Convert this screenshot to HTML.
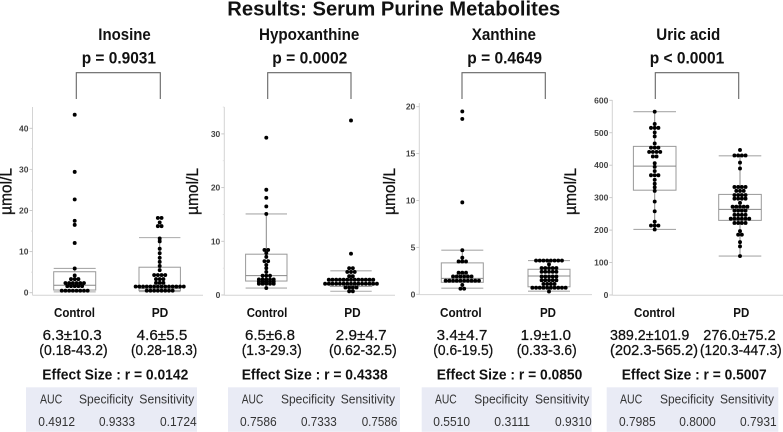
<!DOCTYPE html>
<html lang="en">
<head>
<meta charset="utf-8">
<title>Results: Serum Purine Metabolites</title>
<style>
html,body{margin:0;padding:0;background:#fff;}
svg{display:block;font-family:"Liberation Sans","DejaVu Sans",sans-serif;}
text{fill:#111;}
.h{font-weight:bold;font-size:16.5px;}
.cat{font-weight:bold;font-size:13px;}
.st{font-size:14.5px;stroke:#111;stroke-width:.25px;}
.eff{font-weight:bold;font-size:15px;}
.tb{font-size:12.8px;fill:#333;}
.yt{font-size:17px;font-weight:normal;stroke:#111;stroke-width:.3px;}
.tick{font-size:8.5px;font-weight:bold;fill:#444;}
</style>
</head>
<body>
<svg id="chart" xmlns="http://www.w3.org/2000/svg" width="783" height="432" viewBox="0 0 783 432">
<text x="227.3" y="15.5" font-size="20.5" font-weight="bold" textLength="333" lengthAdjust="spacingAndGlyphs">Results: Serum Purine Metabolites</text>

<g fill="#e9ebf5">
<rect x="26" y="387.3" width="171" height="44.5"/>
<rect x="228" y="387.3" width="172" height="44.5"/>
<rect x="421.7" y="387.3" width="170" height="44.5"/>
<rect x="606.7" y="387.3" width="171.6" height="44.5"/>
</g>

<g id="plots"></g>

<!-- Inosine text -->
<text class="h" x="98.3" y="40" textLength="52.4" lengthAdjust="spacingAndGlyphs">Inosine</text>
<text class="h" x="81.7" y="63.5" textLength="74.3" lengthAdjust="spacingAndGlyphs">p = 0.9031</text>
<text class="yt" transform="translate(11.5,215) rotate(-90)" textLength="47" lengthAdjust="spacingAndGlyphs">µmol/L</text>
<text class="cat" x="54" y="317" textLength="41" lengthAdjust="spacingAndGlyphs">Control</text>
<text class="cat" x="151.7" y="317" textLength="16.6" lengthAdjust="spacingAndGlyphs">PD</text>
<text class="st" x="42.7" y="340" textLength="59" lengthAdjust="spacingAndGlyphs">6.3±10.3</text>
<text class="st" x="136.7" y="340" textLength="50.6" lengthAdjust="spacingAndGlyphs">4.6±5.5</text>
<text class="st" x="39.3" y="355" textLength="68.4" lengthAdjust="spacingAndGlyphs">(0.18-43.2)</text>
<text class="st" x="131" y="355" textLength="66.3" lengthAdjust="spacingAndGlyphs">(0.28-18.3)</text>
<text class="eff" x="42.3" y="379.3" textLength="146" lengthAdjust="spacingAndGlyphs">Effect Size : r = 0.0142</text>
<text class="tb" x="40" y="403.3" textLength="22.3" lengthAdjust="spacingAndGlyphs">AUC</text>
<text class="tb" x="79" y="403.3" textLength="54.3" lengthAdjust="spacingAndGlyphs">Specificity</text>
<text class="tb" x="139.3" y="403.3" textLength="55" lengthAdjust="spacingAndGlyphs">Sensitivity</text>
<text class="tb" x="38.3" y="426" textLength="36.7" lengthAdjust="spacingAndGlyphs">0.4912</text>
<text class="tb" x="99" y="426" textLength="36" lengthAdjust="spacingAndGlyphs">0.9333</text>
<text class="tb" x="160" y="426" textLength="36.7" lengthAdjust="spacingAndGlyphs">0.1724</text>

<!-- Hypoxanthine text -->
<text class="h" x="259" y="40" textLength="100.3" lengthAdjust="spacingAndGlyphs">Hypoxanthine</text>
<text class="h" x="272.3" y="63.5" textLength="75" lengthAdjust="spacingAndGlyphs">p = 0.0002</text>
<text class="yt" transform="translate(198,215) rotate(-90)" textLength="47" lengthAdjust="spacingAndGlyphs">µmol/L</text>
<text class="cat" x="246.7" y="317" textLength="40.6" lengthAdjust="spacingAndGlyphs">Control</text>
<text class="cat" x="344.3" y="317" textLength="16.4" lengthAdjust="spacingAndGlyphs">PD</text>
<text class="st" x="245" y="340" textLength="50" lengthAdjust="spacingAndGlyphs">6.5±6.8</text>
<text class="st" x="335.7" y="340" textLength="51" lengthAdjust="spacingAndGlyphs">2.9±4.7</text>
<text class="st" x="241.7" y="355" textLength="60" lengthAdjust="spacingAndGlyphs">(1.3-29.3)</text>
<text class="st" x="329" y="355" textLength="67.7" lengthAdjust="spacingAndGlyphs">(0.62-32.5)</text>
<text class="eff" x="241.7" y="379.3" textLength="146" lengthAdjust="spacingAndGlyphs">Effect Size : r = 0.4338</text>
<text class="tb" x="241.7" y="403.3" textLength="21.6" lengthAdjust="spacingAndGlyphs">AUC</text>
<text class="tb" x="281" y="403.3" textLength="54" lengthAdjust="spacingAndGlyphs">Specificity</text>
<text class="tb" x="340.7" y="403.3" textLength="54.3" lengthAdjust="spacingAndGlyphs">Sensitivity</text>
<text class="tb" x="240" y="426" textLength="36.7" lengthAdjust="spacingAndGlyphs">0.7586</text>
<text class="tb" x="301" y="426" textLength="35.7" lengthAdjust="spacingAndGlyphs">0.7333</text>
<text class="tb" x="361.7" y="426" textLength="35.6" lengthAdjust="spacingAndGlyphs">0.7586</text>

<!-- Xanthine text -->
<text class="h" x="471.7" y="40" textLength="64.3" lengthAdjust="spacingAndGlyphs">Xanthine</text>
<text class="h" x="467.3" y="63.5" textLength="74.7" lengthAdjust="spacingAndGlyphs">p = 0.4649</text>
<text class="yt" transform="translate(395,215) rotate(-90)" textLength="47" lengthAdjust="spacingAndGlyphs">µmol/L</text>
<text class="cat" x="440" y="317" textLength="41.7" lengthAdjust="spacingAndGlyphs">Control</text>
<text class="cat" x="540" y="317" textLength="16" lengthAdjust="spacingAndGlyphs">PD</text>
<text class="st" x="436.7" y="340" textLength="50.6" lengthAdjust="spacingAndGlyphs">3.4±4.7</text>
<text class="st" x="520.7" y="340" textLength="50.3" lengthAdjust="spacingAndGlyphs">1.9±1.0</text>
<text class="st" x="433.3" y="355" textLength="60" lengthAdjust="spacingAndGlyphs">(0.6-19.5)</text>
<text class="st" x="516.7" y="355" textLength="60" lengthAdjust="spacingAndGlyphs">(0.33-3.6)</text>
<text class="eff" x="436.7" y="379.3" textLength="145.6" lengthAdjust="spacingAndGlyphs">Effect Size : r = 0.0850</text>
<text class="tb" x="435" y="403.3" textLength="21.7" lengthAdjust="spacingAndGlyphs">AUC</text>
<text class="tb" x="474.3" y="403.3" textLength="54" lengthAdjust="spacingAndGlyphs">Specificity</text>
<text class="tb" x="535" y="403.3" textLength="54.3" lengthAdjust="spacingAndGlyphs">Sensitivity</text>
<text class="tb" x="433.3" y="426" textLength="36.7" lengthAdjust="spacingAndGlyphs">0.5510</text>
<text class="tb" x="494.3" y="426" textLength="35.7" lengthAdjust="spacingAndGlyphs">0.3111</text>
<text class="tb" x="555" y="426" textLength="36.7" lengthAdjust="spacingAndGlyphs">0.9310</text>

<!-- Uric acid text -->
<text class="h" x="656.3" y="40" textLength="64" lengthAdjust="spacingAndGlyphs">Uric acid</text>
<text class="h" x="649.7" y="63.5" textLength="74.6" lengthAdjust="spacingAndGlyphs">p &lt; 0.0001</text>
<text class="yt" transform="translate(576,215) rotate(-90)" textLength="47" lengthAdjust="spacingAndGlyphs">µmol/L</text>
<text class="cat" x="634" y="317" textLength="41" lengthAdjust="spacingAndGlyphs">Control</text>
<text class="cat" x="733.3" y="317" textLength="16" lengthAdjust="spacingAndGlyphs">PD</text>
<text class="st" x="610" y="340" textLength="79.3" lengthAdjust="spacingAndGlyphs">389.2±101.9</text>
<text class="st" x="703.3" y="340" textLength="72.4" lengthAdjust="spacingAndGlyphs">276.0±75.2</text>
<text class="st" x="610" y="355" textLength="88" lengthAdjust="spacingAndGlyphs">(202.3-565.2)</text>
<text class="st" x="700" y="355" textLength="81.7" lengthAdjust="spacingAndGlyphs">(120.3-447.3)</text>
<text class="eff" x="621.7" y="379.3" textLength="145" lengthAdjust="spacingAndGlyphs">Effect Size : r = 0.5007</text>
<text class="tb" x="620" y="403.3" textLength="22.3" lengthAdjust="spacingAndGlyphs">AUC</text>
<text class="tb" x="660" y="403.3" textLength="54" lengthAdjust="spacingAndGlyphs">Specificity</text>
<text class="tb" x="720" y="403.3" textLength="54" lengthAdjust="spacingAndGlyphs">Sensitivity</text>
<text class="tb" x="619" y="426" textLength="36.7" lengthAdjust="spacingAndGlyphs">0.7985</text>
<text class="tb" x="679.3" y="426" textLength="36.4" lengthAdjust="spacingAndGlyphs">0.8000</text>
<text class="tb" x="740" y="426" textLength="36.7" lengthAdjust="spacingAndGlyphs">0.7931</text>
</svg>

<script>
// ---- data ----
const inosineTicks = [0, 10, 20, 30, 40];
const inosineControlPoints = [43.3, 29.4, 22.7, 17.5, 16.5, 12.1, 5.9, 4.2, 3.3, 3.3, 3.3,
  2.35, 2.35, 2.35, 2.35, 2.35, 2.35, 1.6, 1.6, 1.6, 1.6, 1.6,
  0.5, 0.5, 0.5, 0.5, 0.5, 0.5, 0.5, 0.5];
const inosinePdPoints = [18.2, 18.2, 17.1, 16.2, 16.2, 13.2, 12.5, 10.7, 9.6, 8.5, 7.5, 6.5, 5.5,
  4.3, 4.3, 4.3, 4.3, 3.3, 3.3, 3.3, 2.4, 2.4, 2.4,
  1.5, 1.5, 1.5, 1.5, 1.5, 1.5, 1.5, 1.5, 1.5, 1.5, 1.5, 1.5, 1.5, 1.5,
  0.5, 0.5, 0.5, 0.5, 0.5, 0.5, 0.5, 0.5];
const inosineControlBox = [0.2, 0.65, 1.8, 5.1, 5.9];
const inosinePdBox = [0.28, 0.5, 1.0, 6.2, 13.4];

const hypoxanthineTicks = [0, 10, 20, 30];
const hypoxanthineControlPoints = [29.3, 19.6, 18.1, 16.5, 15.1, 8.4, 8.4, 7.8, 7.1, 6.3, 6.3, 5.6, 5.0, 4.3,
  3.6, 3.6, 3.6, 2.9, 2.9, 2.9, 2.9, 2.9, 2.5, 2.5, 2.5, 2.5, 2.5, 2.1, 2.1, 2.1, 2.1, 2.1, 1.3];
const hypoxanthinePdPoints = [32.5, 7.7, 5.0, 5.0, 4.3, 4.3, 4.3, 3.5, 3.5,
  2.85, 2.85, 2.85, 2.85, 2.85, 2.85, 2.85, 2.85, 2.85, 2.85, 2.85, 2.85, 2.85,
  2.1, 2.1, 2.1, 2.1, 2.1, 2.1, 2.1, 2.1, 2.1, 2.1, 2.1, 2.1, 2.1, 2.1, 2.1,
  1.4, 1.4, 1.4, 1.4, 0.7, 0.7];
const hypoxanthineControlBox = [1.3, 2.6, 3.6, 7.6, 15.1];
const hypoxanthinePdBox = [0.7, 1.6, 2.1, 2.85, 4.5];

const xanthineTicks = [0, 5, 10, 15, 20];
const xanthineControlPoints = [19.5, 18.7, 9.8, 4.7, 3.9, 3.5, 3.5, 3.5, 2.3, 2.3, 2.3,
  1.9, 1.9, 1.9, 1.9, 1.9, 1.9, 1.45, 1.45, 1.45, 1.45, 1.45, 1.45, 1.45, 1.45, 1.45, 1.45,
  1.0, 0.6, 0.6];
const xanthinePdPoints = [3.6, 3.6, 3.6, 3.6, 3.6, 3.6, 3.6, 3.6, 3.2,
  2.8, 2.8, 2.8, 2.8, 2.8, 2.4, 2.4, 2.4, 2.4, 2.4, 1.9, 1.9, 1.9, 1.9, 1.9,
  1.5, 1.5, 1.5, 1.5, 1.5, 1.1, 1.1, 1.1, 1.1,
  0.7, 0.7, 0.7, 0.7, 0.7, 0.7, 0.7, 0.7, 0.7, 0.7, 0.3];
const xanthineControlBox = [0.65, 1.28, 1.7, 3.35, 4.7];
const xanthinePdBox = [0.33, 0.8, 1.95, 2.67, 3.6];

const uricTicks = [0, 100, 200, 300, 400, 500, 600];
const uricControlPoints = [565, 527, 515, 515, 515, 501, 489, 467, 454, 454, 454, 441, 441, 441, 441, 427, 427,
  406, 395, 382, 369, 369, 369, 355, 343, 332, 321, 288, 258, 226, 214, 214, 214, 202];
const uricPdPoints = [447, 430, 430, 430, 430, 408, 390, 333, 333, 333, 333, 321, 321, 321,
  308, 308, 308, 308, 297, 297, 297, 297, 284, 272, 272, 272, 272, 272, 260, 260, 260, 260,
  247, 247, 247, 247, 235, 235, 235, 235, 235, 235, 222, 222, 222, 222,
  197, 186, 186, 163, 150, 120];
const uricControlBox = [202, 323, 397, 458, 565];
const uricPdBox = [120, 230, 264, 310, 429];

// ---- layout ----
const panels = [
  {name:'inosine', ticks:inosineTicks, minor:[5,15,25,35], axisX:32.5, axisTop:107, axisEnd:203, y0:292.7, pxPerUnit:4.11,
   bracket:[76.3,160.3], groups:[
    {name:'control', cx:74.7, halfW:21, pts:inosineControlPoints, box:inosineControlBox},
    {name:'pd', cx:159.7, halfW:20.7, pts:inosinePdPoints, box:inosinePdBox}]},
  {name:'hypoxanthine', ticks:hypoxanthineTicks, minor:[5,15,25,35], axisX:224.3, axisTop:107, axisEnd:395, y0:295, pxPerUnit:5.37,
   bracket:[267.7,351], groups:[
    {name:'control', cx:266.3, halfW:20.7, pts:hypoxanthineControlPoints, box:hypoxanthineControlBox},
    {name:'pd', cx:351, halfW:20.7, pts:hypoxanthinePdPoints, box:hypoxanthinePdBox}]},
  {name:'xanthine', ticks:xanthineTicks, minor:[], axisX:419.3, axisTop:103, axisEnd:592, y0:294.3, pxPerUnit:9.38,
   bracket:[462,545.3], groups:[
    {name:'control', cx:462.3, halfW:21, pts:xanthineControlPoints, box:xanthineControlBox},
    {name:'pd', cx:549, halfW:21, pts:xanthinePdPoints, box:xanthinePdBox}]},
  {name:'uric-acid', ticks:uricTicks, minor:[], axisX:612.3, axisTop:100, axisEnd:783, y0:295, pxPerUnit:0.3245,
   bracket:[655.3,738.7], groups:[
    {name:'control', cx:654.7, halfW:21.3, pts:uricControlPoints, box:uricControlBox},
    {name:'pd', cx:740, halfW:21.3, pts:uricPdPoints, box:uricPdBox}]}
];

const SVGNS = 'http://www.w3.org/2000/svg';
const DOT_SPACING = 3.7;
const DOT_R = 1.95;
const root = document.getElementById('plots');

function mk(tag, parent, attrs) {
  const el = document.createElementNS(SVGNS, tag);
  for (const k in attrs) el.setAttribute(k, attrs[k]);
  parent.appendChild(el);
  return el;
}
function line(parent, x1, y1, x2, y2, color, width) {
  return mk('line', parent, {x1:x1, y1:y1, x2:x2, y2:y2, stroke:color, 'stroke-width':width});
}

panels.forEach(function (p) {
  const yScale = function (v) { return p.y0 - v * p.pxPerUnit; };
  const baseline = p.y0 + (p.name === 'inosine' ? 2.6 : 0.3);

  const g = mk('g', root, {});
  
  

  // bracket
  const br = mk('polyline', g, {points: p.bracket[0]+',99 '+p.bracket[0]+',72.7 '+p.bracket[1]+',72.7 '+p.bracket[1]+',99', fill:'none', stroke:'#666', 'stroke-width':1.1});
  
  

  // axes
  const yAxis = line(g, p.axisX, p.axisTop, p.axisX, baseline, '#d4d4d4', 1);
  
  
  const xAxis = line(g, p.axisX, baseline, p.axisEnd, baseline, '#d4d4d4', 1);
  
  

  p.minor.forEach(function (v) {
    if (yScale(v) < p.axisTop) return;
    const m = line(g, p.axisX - 1.5, yScale(v), p.axisX, yScale(v), '#ddd', 0.8);
    
    
  });
  p.ticks.forEach(function (v) {
    const t = line(g, p.axisX - 3, yScale(v), p.axisX, yScale(v), '#c4c4c4', 0.9);
    
    
    const lab = mk('text', g, {x:p.axisX - 4, y:yScale(v) + 3, 'text-anchor':'end', 'class':'tick'});
    
    
    lab.textContent = v;
  });

  p.groups.forEach(function (gr) {
    const id = p.name + '-' + gr.name;
    const lo = gr.box[0], q1 = gr.box[1], med = gr.box[2], q3 = gr.box[3], hi = gr.box[4];
    const bg = mk('g', g, {});
    
    

    const whiskerV = line(bg, gr.cx, yScale(hi), gr.cx, yScale(lo), '#888', 1);
    
    

    const boxRect = mk('rect', bg, {x:gr.cx - gr.halfW, y:yScale(q3), width:gr.halfW * 2, height:yScale(q1) - yScale(q3), fill:'#fff', stroke:'#999', 'stroke-width':1});
    
    

    const medLine = line(bg, gr.cx - gr.halfW, yScale(med), gr.cx + gr.halfW, yScale(med), '#888', 1);
    
    

    const capHi = line(bg, gr.cx - gr.halfW, yScale(hi), gr.cx + gr.halfW, yScale(hi), '#aaa', 1.1);
    
    
    const capLo = line(bg, gr.cx - gr.halfW, yScale(lo), gr.cx + gr.halfW, yScale(lo), '#aaa', 1.1);
    
    

    // swarm: identical values spread symmetrically around the centre
    const counts = new Map();
    gr.pts.forEach(function (v) { counts.set(v, (counts.get(v) || 0) + 1); });
    counts.forEach(function (n, v) {
      for (let i = 0; i < n; i++) {
        const dot = mk('circle', bg, {cx:gr.cx + (i - (n - 1) / 2) * DOT_SPACING, cy:yScale(v), r:DOT_R, fill:'#000'});
        
        
      }
    });
  });
});
</script>
</body>
</html>
